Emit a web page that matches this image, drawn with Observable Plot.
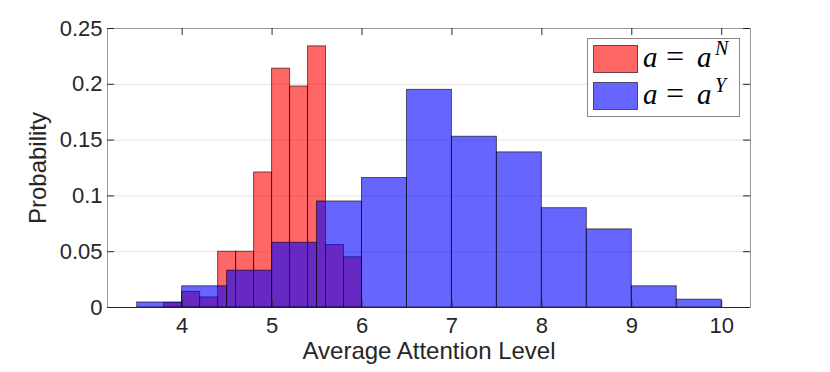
<!DOCTYPE html>
<html><head><meta charset="utf-8">
<script src="https://cdn.jsdelivr.net/npm/d3@7"></script>
<script src="https://cdn.jsdelivr.net/npm/@observablehq/plot@0.6"></script>
<style>
body{margin:0;background:#fff;}
#wrap{position:relative;width:830px;height:372px;}
</style></head><body><div id="wrap"></div>
<script>
// a = a^N (red) histogram, bin width 0.2
const redEdges = [3.8, 4.0, 4.2, 4.4, 4.6, 4.8, 5.0, 5.2, 5.4, 5.6, 5.8, 6.0];
const redProb  = [0.004, 0.014, 0.009, 0.050, 0.050, 0.121, 0.214, 0.198, 0.234, 0.056, 0.045];
// a = a^Y (blue) histogram, bin width 0.5
const blueEdges = [3.5, 4.0, 4.5, 5.0, 5.5, 6.0, 6.5, 7.0, 7.5, 8.0, 8.5, 9.0, 9.5, 10.0];
const blueProb  = [0.0045, 0.019, 0.033, 0.058, 0.095, 0.116, 0.195, 0.153, 0.139, 0.089, 0.070, 0.019, 0.007];
const seriesNames = ["N", "Y"];
const xTicks = [4, 5, 6, 7, 8, 9, 10];
const yTicks = [0, 0.05, 0.1, 0.15, 0.2, 0.25];
const xLabel = "Average Attention Level";
const yLabel = "Probability";

const redBins = redProb.map((p, i) => ({x1: redEdges[i], x2: redEdges[i + 1], p}));
const blueBins = blueProb.map((p, i) => ({x1: blueEdges[i], x2: blueEdges[i + 1], p}));

const W = 830, H = 372, mL = 107, mR = 80, mT = 28, mB = 65;
const fw = W - mL - mR, fh = H - mT - mB;
const tk = 7;
const dark = "#262626";

const chart = Plot.plot({
  width: W, height: H,
  marginLeft: mL, marginRight: mR, marginTop: mT, marginBottom: mB,
  style: {fontFamily: "'Liberation Sans', Arial, sans-serif", fontSize: "22px", color: dark, background: "#fff"},
  x: {domain: [3.17, 10.32]},
  y: {domain: [0, 0.25]},
  marks: [
    Plot.ruleY(yTicks.filter(d => d > 0 && d < 0.25), {stroke: "#e3e3e3", strokeWidth: 1}),
    Plot.rectY(redBins, {x1: "x1", x2: "x2", y: "p", fill: "#ff0000", fillOpacity: 0.6, stroke: "#000", strokeOpacity: 0.6, strokeWidth: 1}),
    Plot.rectY(blueBins, {x1: "x1", x2: "x2", y: "p", fill: "#0000ff", fillOpacity: 0.6, stroke: "#000", strokeOpacity: 0.6, strokeWidth: 1}),
    Plot.frame({stroke: "#999", strokeWidth: 1}),
    Plot.ruleY([0], {stroke: dark, strokeWidth: 1}),
    Plot.tickY(yTicks, {y: d => d, insetRight: fw - tk, stroke: dark}),
    Plot.tickY(yTicks, {y: d => d, insetLeft: fw - tk, stroke: dark}),
    Plot.tickX(xTicks, {x: d => d, insetTop: fh - tk, stroke: dark}),
    Plot.tickX(xTicks, {x: d => d, insetBottom: fh - tk, stroke: dark}),
    Plot.axisY({ticks: yTicks, tickSize: 0, tickPadding: 5, fontSize: 22, label: null,
      tickFormat: d => d === 0 ? "0" : String(d)}),
    Plot.axisX({ticks: xTicks, tickSize: 0, tickPadding: 10, fontSize: 22, label: null}),
    Plot.text([xLabel], {text: d => d, frameAnchor: "bottom", dy: 51, fontSize: 24, textAnchor: "middle", fill: dark}),
    Plot.text([yLabel], {text: d => d, frameAnchor: "left", dx: -69, rotate: -90, fontSize: 24, textAnchor: "middle", fill: dark})
  ]
});
document.getElementById("wrap").appendChild(chart);

// Legend
const svg = d3.select(chart);
const lg = svg.append("g").attr("font-family", "'Liberation Serif', 'Times New Roman', serif")
  .attr("fill", "#000").attr("text-anchor", "start");
lg.append("rect").attr("x", 587.5).attr("y", 38.5).attr("width", 152).attr("height", 78)
  .attr("fill", "#fff").attr("stroke", "#888");
const rows = [
  {name: seriesNames[0], color: "#ff0000", y: 45, base: 67},
  {name: seriesNames[1], color: "#0000ff", y: 82, base: 104}
];
for (const r of rows) {
  lg.append("rect").attr("x", 593.5).attr("y", r.y + 0.5).attr("width", 44).attr("height", 27)
    .attr("fill", r.color).attr("fill-opacity", 0.6).attr("stroke", "#000").attr("stroke-opacity", 0.6);
  const t = lg.append("text").attr("y", r.base).attr("font-size", 29).attr("text-anchor", "start");
  t.append("tspan").attr("x", 643).attr("font-style", "italic").text("a");
  t.append("tspan").attr("x", 666).attr("font-size", 32).text("=");
  t.append("tspan").attr("x", 697).attr("font-style", "italic").text("a");
  lg.append("text").attr("x", 715).attr("y", r.base - 12).attr("font-size", 20)
    .attr("font-style", "italic").attr("text-anchor", "start").text(r.name);
}
</script>
</body></html>
